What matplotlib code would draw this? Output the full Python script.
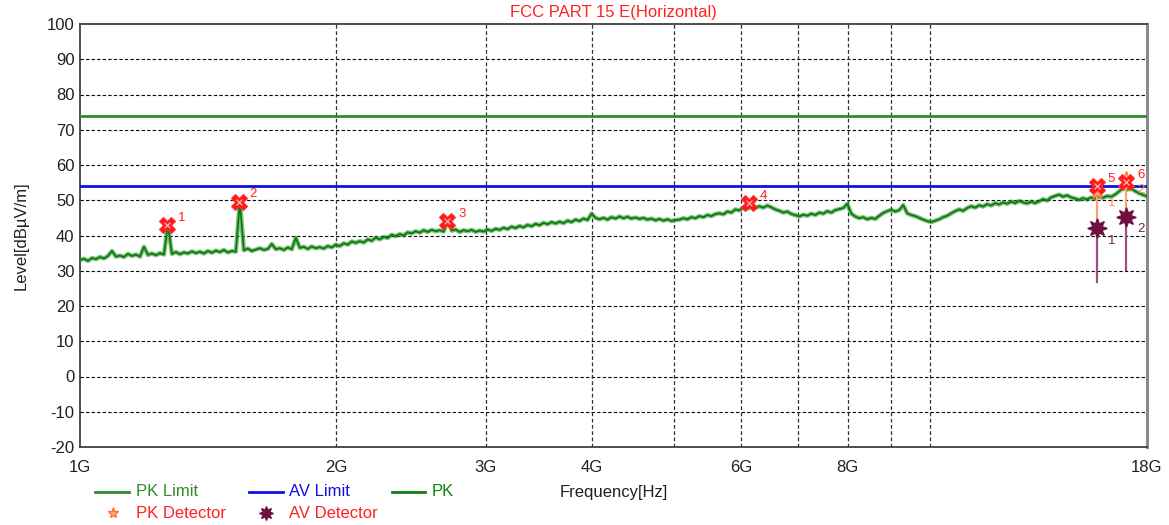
import numpy as np
import matplotlib
matplotlib.use("Agg")
import matplotlib.pyplot as plt
from matplotlib.lines import Line2D

plt.rcParams['font.family'] = ['Liberation Sans', 'DejaVu Sans']
plt.rcParams['axes.unicode_minus'] = False

# ---------------- data ----------------
title = "FCC PART 15 E(Horizontal)"
f_start, f_stop = 1.0, 18.0          # GHz sweep
pk_limit = 74.0
av_limit = 54.0

pk_trace = [
    33.0, 33.4, 32.8, 33.6, 33.3, 33.9, 33.5, 34.2, 35.6, 34.0,
    34.3, 33.9, 34.8, 34.2, 34.6, 34.0, 36.8, 34.5, 34.9, 34.4,
    35.0, 34.6, 43.0, 34.8, 35.3, 34.7, 35.2, 34.9, 35.5, 35.0,
    35.4, 34.9, 35.6, 35.1, 35.7, 35.3, 35.9, 35.2, 35.6, 35.4,
    49.6, 35.8, 36.3, 35.6, 36.0, 36.4, 35.9, 36.2, 37.6, 36.1,
    36.4, 35.9, 36.6, 36.1, 39.4, 36.5, 36.8, 36.2, 36.9, 36.4,
    36.7, 36.3, 37.0, 36.6, 37.4, 37.0, 37.8, 37.4, 38.3, 37.9,
    38.4, 38.0, 38.9, 38.5, 39.4, 38.9, 39.6, 39.3, 40.2, 39.8,
    40.4, 40.0, 40.9, 40.6, 41.2, 40.8, 41.5, 41.0, 41.6, 41.2,
    41.5, 41.1, 44.2, 41.4, 41.7, 41.0, 41.5, 41.2, 41.6, 41.0,
    41.4, 41.1, 41.7, 41.3, 41.9, 41.6, 42.2, 41.8, 42.5, 42.1,
    42.7, 42.3, 43.0, 42.6, 43.3, 42.9, 43.6, 43.2, 43.8, 43.4,
    43.9, 43.5, 44.2, 43.8, 44.5, 44.1, 44.8, 44.4, 46.2, 45.0,
    44.6, 45.0, 44.5, 45.2, 44.8, 45.4, 44.9, 45.3, 44.8, 45.1,
    44.7, 45.0, 44.5, 44.8, 44.3, 44.7, 44.2, 44.6, 44.1, 44.4,
    44.5, 44.9, 44.6, 45.2, 44.9, 45.5, 45.2, 45.8, 45.5, 46.1,
    46.3, 46.0, 46.8, 46.5, 47.4, 47.1, 47.9, 47.6, 48.2, 47.8,
    48.3, 47.9, 48.5, 48.0, 47.4, 47.0, 46.5, 46.8, 46.1, 45.8,
    45.4, 45.9, 45.6, 46.2, 45.8, 46.5, 46.2, 46.9, 46.5, 47.2,
    47.5, 47.8, 49.0, 46.2, 45.4, 44.9, 45.2, 44.6, 45.0, 44.7,
    45.6, 46.4, 46.9, 47.3, 46.8, 47.2, 48.6, 46.3, 45.8, 45.5,
    45.0, 44.5, 44.1, 43.8, 44.2, 44.6, 45.2, 45.6, 46.3, 46.9,
    47.4, 47.0, 47.8, 48.3, 47.9, 48.6, 48.2, 48.9, 48.5, 49.2,
    48.8, 49.4, 49.0, 49.6, 49.2, 49.8, 49.4, 49.1, 49.6, 49.2,
    49.7, 50.3, 49.9, 50.8, 51.2, 51.6, 51.0, 51.4, 50.8, 50.5,
    50.1, 50.6, 50.2, 50.8, 50.4, 51.0, 50.7, 51.2, 51.0, 51.6,
    52.5, 53.4, 53.0, 53.3, 52.6, 52.0, 51.5, 51.1,
]

marker_freq = [1.266, 1.537, 2.705, 6.124, 15.71, 17.01]
marker_level = [43.0, 49.6, 44.2, 49.1, 54.1, 55.1]
marker_labels = ["1", "2", "3", "4", "5", "6"]

det_freq = [15.71, 17.01]
pk_det_level = [52.3, 56.0]
av_det_level = [42.0, 45.2]
av_det_base = [26.9, 30.2]
det_labels = ["1", "2"]

xtick_vals = [1, 2, 3, 4, 6, 8, 18]
xtick_labels = ["1G", "2G", "3G", "4G", "6G", "8G", "18G"]
xgrid_vals = [2, 3, 4, 5, 6, 7, 8, 9, 10]
ytick_vals = list(range(-20, 101, 10))

FS = 12

# ---------------- figure ----------------
W, H = 1169, 525
fig = plt.figure(figsize=(W / 100, H / 100), dpi=100)
ax = fig.add_axes([80 / W, 1 - 447 / H, (1147 - 80) / W, (447 - 24) / H])

ax.set_xscale('log')
ax.set_xlim(f_start, f_stop)
ax.set_ylim(-20, 100)

# grid
for y in ytick_vals[1:-1]:
    ax.axhline(y, color='black', lw=0.8, ls=(0, (3, 2)), zorder=1)
for x in xgrid_vals:
    ax.axvline(x, color='#303030', lw=0.9, ls=(0, (3, 2)), zorder=1)

# limits
ax.axhline(pk_limit, color='#2e8b2e', lw=2.0, zorder=3)
ax.axhline(av_limit, color='#1010e0', lw=2.0, zorder=3)

# PK trace
freqs = np.geomspace(f_start, f_stop, len(pk_trace))
ax.plot(freqs, pk_trace, color='#2e962e', lw=3.2, alpha=0.6, zorder=4)
ax.plot(freqs, pk_trace, color='#0a7a0a', lw=1.3, zorder=4)

# detector stems
for f, pk, av, base in zip(det_freq, pk_det_level, av_det_level, av_det_base):
    ax.plot([f, f], [pk, av], color='#ffa070', lw=1.6, zorder=5)
    ax.plot([f, f], [av, base], color='#a05080', lw=1.6, zorder=5)

# PK detector stars
ax.plot(det_freq, pk_det_level, ls='none', marker='*', ms=11,
        mfc='#ffb080', mec='#ff7030', mew=1.0, zorder=6)
# AV detector stars
ax.plot(det_freq, av_det_level, ls='none', marker=(8, 1, 0), ms=14,
        color='#701040', zorder=6)

# red markers
ax.plot(marker_freq, marker_level, ls='none', marker='X', ms=11,
        mfc='#ff1818', mec='#ff3030', mew=0.8, zorder=7)
ax.plot(marker_freq, marker_level, ls='none', marker='x', ms=4,
        mec='#ffb0b0', mew=0.9, zorder=8)

for f, v, t in zip(marker_freq, marker_level, marker_labels):
    ax.annotate(t, (f, v), xytext=(8, 3), textcoords='offset points',
                color='#ff2020', fontsize=9.5, zorder=9)
for f, v, t in zip(det_freq, pk_det_level, det_labels):
    ax.annotate(t, (f, v), xytext=(8, -10), textcoords='offset points',
                color='#ff9040', fontsize=9.5, zorder=9)
for f, v, t in zip(det_freq, av_det_level, det_labels):
    ax.annotate(t, (f, v), xytext=(8, -11), textcoords='offset points',
                color='#702060', fontsize=9.5, zorder=9)

# ticks
ax.set_xticks(xtick_vals)
ax.set_xticklabels(xtick_labels)
ax.xaxis.set_minor_locator(matplotlib.ticker.NullLocator())
ax.set_yticks(ytick_vals)
ax.tick_params(axis='both', length=0, labelsize=FS, colors='#202020')
ax.tick_params(axis='x', pad=9)
ax.tick_params(axis='y', pad=4)

for s in ['left', 'top', 'bottom']:
    ax.spines[s].set_color('#404040')
    ax.spines[s].set_linewidth(1.3)
ax.spines['right'].set_color('#8c8c8c')
ax.spines['right'].set_linewidth(2.2)

ax.set_ylabel("Level[dBµV/m]", fontsize=FS, color='#202020', labelpad=13)
fig.text(613 / W, 1 - 12 / H, title, color='#ff2020', fontsize=FS,
         ha='center', va='center')
fig.text(614 / W, 1 - 492 / H, "Frequency[Hz]", color='#202020',
         fontsize=FS, ha='center', va='center')

# custom legend
r1 = 1 - 492 / H
r2 = 1 - 513 / H
fig.add_artist(Line2D([95 / W, 129 / W], [r1, r1], color='#2e8b2e', lw=2))
fig.text(136 / W, r1, "PK Limit", color='#2e8b2e', fontsize=FS, va='center')
fig.add_artist(Line2D([249 / W, 283 / W], [r1, r1], color='#1010e0', lw=2))
fig.text(289 / W, r1, "AV Limit", color='#1010e0', fontsize=FS, va='center')
fig.add_artist(Line2D([392 / W, 425 / W], [r1, r1], color='#108010', lw=2))
fig.text(432 / W, r1, "PK", color='#108010', fontsize=FS, va='center')
fig.add_artist(Line2D([113 / W], [r2], ls='none', marker='*', ms=8,
                      mfc='#ffb080', mec='#ff7030'))
fig.text(136 / W, r2, "PK Detector", color='#ff2020', fontsize=FS, va='center')
fig.add_artist(Line2D([266 / W], [r2], ls='none', marker=(8, 1, 0), ms=10,
                      color='#701040'))
fig.text(289 / W, r2, "AV Detector", color='#ff2020', fontsize=FS, va='center')

fig.savefig("out.png", dpi=100)
